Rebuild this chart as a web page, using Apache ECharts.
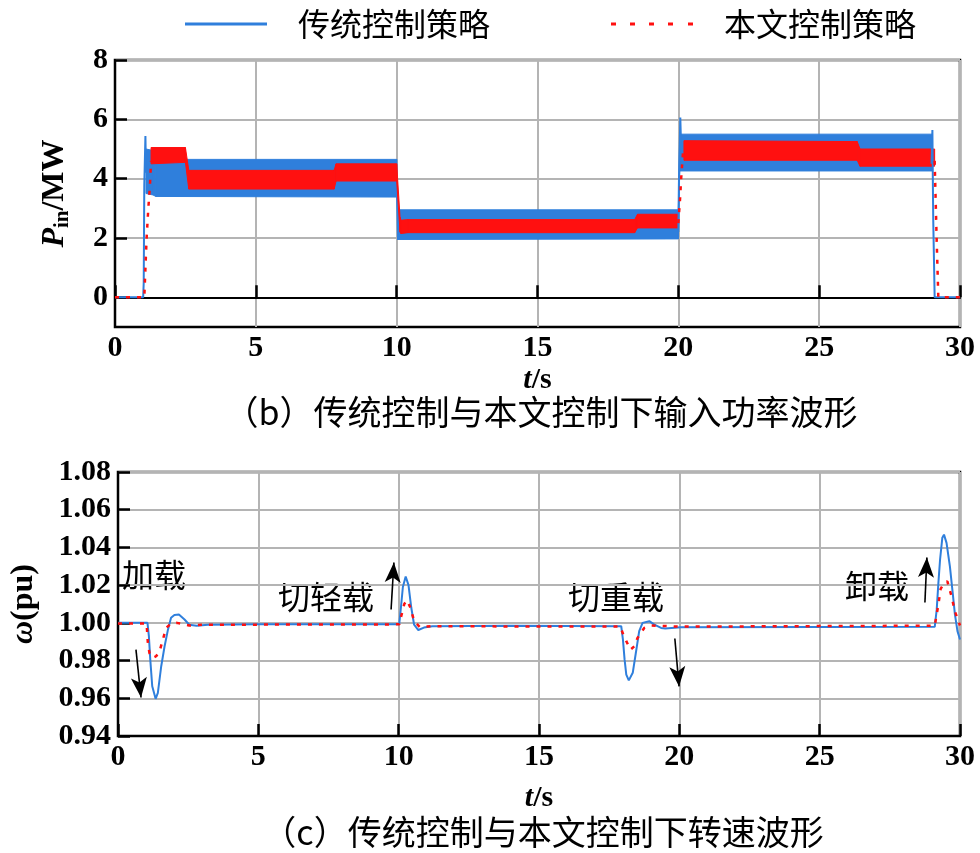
<!DOCTYPE html>
<html>
<head>
<meta charset="utf-8">
<script src="https://cdn.jsdelivr.net/npm/echarts@6/dist/echarts.min.js"></script>
<style>
  html, body { margin: 0; padding: 0; background: #fff; }
  #chart { width: 980px; height: 853px; }
</style>
</head>
<body>
<div id="chart"></div>
<script>
// x 轴刻度
var timeTicks = [0, 5, 10, 15, 20, 25, 30];
var powerTicks = [0, 2, 4, 6, 8];

// (b) 输入功率振荡带：[t, 下沿, 上沿]
var tradBand = [
  [1.10, 3.50, 5.00], [1.35, 3.45, 4.95], [1.45, 3.40, 4.65],
  [10.00, 3.38, 4.65], [10.03, 1.95, 2.95], [20.00, 1.97, 2.95],
  [20.05, 4.26, 5.50], [29.02, 4.26, 5.50]
];
var propBandA = [
  [1.28, 4.50, 5.05], [2.50, 4.55, 5.05], [2.62, 3.65, 4.28],
  [7.78, 3.65, 4.28], [7.85, 3.92, 4.50], [10.00, 3.92, 4.50],
  [10.12, 2.20, 2.70], [10.15, 2.15, 2.60], [10.40, 2.18, 2.62],
  [18.45, 2.18, 2.62], [18.55, 2.34, 2.80], [20.00, 2.34, 2.80]
];
var propBandB = [
  [20.20, 4.62, 5.28], [26.35, 4.62, 5.25], [26.45, 4.42, 5.00], [29.10, 4.42, 5.00]
];
// 功率带外的线段
var tradPowerStart = [[0, 0], [1.00, 0], [1.02, 0.5], [1.04, 3.8], [1.08, 5.44], [1.10, 4.2]];
var tradPowerJump = [[20.00, 2.2], [20.02, 3.8], [20.07, 6.06], [20.10, 5.0]];
var tradPowerEnd = [[28.99, 4.5], [29.02, 5.64], [29.04, 3.5], [29.05, 2.6], [29.08, 2.6], [29.10, 0], [30, 0]];
var propPowerStart = [[0, 0], [1.04, 0], [1.12, 1.95], [1.18, 2.96], [1.24, 3.75], [1.28, 4.6]];
var propPowerJump = [[20.00, 2.5], [20.06, 3.3], [20.10, 4.0], [20.17, 4.95]];
var propPowerEnd = [[29.10, 4.6], [29.13, 3.5], [29.17, 2.0], [29.23, 0], [30, 0]];

// (c) 转速 ω (pu)
var tradSpeed = [
  [0, 1.0000], [1.05, 1.0000], [1.10, 0.9930], [1.15, 0.9805], [1.22, 0.9664], [1.34, 0.9597],
  [1.42, 0.9629], [1.54, 0.9770], [1.66, 0.9876], [1.78, 0.9964], [1.89, 1.0027], [2.01, 1.0042],
  [2.17, 1.0044], [2.37, 1.0018], [2.54, 0.9990], [2.80, 0.9985], [3.20, 0.9990], [5.00, 0.9993],
  [8.00, 0.9993], [10.02, 0.9993], [10.08, 1.0080], [10.15, 1.0190], [10.25, 1.0246], [10.35, 1.0200],
  [10.45, 1.0080], [10.55, 0.9990], [10.70, 0.9962], [10.90, 0.9975], [11.20, 0.9982], [14.00, 0.9984],
  [17.93, 0.9982], [17.99, 0.9912], [18.05, 0.9805], [18.11, 0.9726], [18.20, 0.9695], [18.34, 0.9735],
  [18.45, 0.9840], [18.57, 0.9956], [18.69, 1.0000], [18.93, 1.0009], [19.11, 0.9991], [19.35, 0.9973],
  [19.50, 0.9970], [20.06, 0.9977], [25.00, 0.9978], [29.10, 0.9979], [29.17, 1.0070], [29.23, 1.0212],
  [29.29, 1.0336], [29.37, 1.0451], [29.43, 1.0468], [29.52, 1.0424], [29.64, 1.0300], [29.74, 1.0159],
  [29.82, 1.0044], [29.91, 0.9956], [30.00, 0.9912]
];
var propSpeed = [
  [0, 0.9996], [1.02, 0.9996], [1.06, 0.9900], [1.12, 0.9840], [1.24, 0.9814], [1.36, 0.9823],
  [1.48, 0.9850], [1.60, 0.9911], [1.71, 0.9973], [1.89, 0.9996], [2.10, 1.0000], [2.54, 0.9986],
  [3.00, 0.9990], [10.02, 0.9992], [10.10, 1.0040], [10.20, 1.0100], [10.30, 1.0120], [10.42, 1.0080],
  [10.55, 1.0010], [10.75, 0.9978], [11.20, 0.9982], [17.90, 0.9980], [17.99, 0.9943], [18.11, 0.9903],
  [18.26, 0.9858], [18.40, 0.9876], [18.51, 0.9920], [18.75, 0.9973], [18.99, 0.9986], [20.00, 0.9980],
  [29.10, 0.9985], [29.23, 1.0097], [29.31, 1.0180], [29.45, 1.0215], [29.55, 1.0220], [29.70, 1.0140],
  [29.82, 1.0060], [30.00, 0.9986]
];

// 标注箭头（数据坐标）
var arrows = [
  [[0.64, 0.9858], [0.82, 0.9604]],
  [[9.73, 1.0071], [9.83, 1.0320]],
  [[19.84, 0.9917], [19.99, 0.9663]],
  [[28.75, 1.0108], [28.82, 1.0347]]
];

var BLUE = '#2f7fdc';
var RED = '#ff1010';
var numFont = 'Liberation Serif';
var cjkFont = 'Noto Sans CJK SC';

var chart = echarts.init(document.getElementById('chart'));

function bandSeries(name, rows, color) {
  var quads = [];
  for (var i = 0; i < rows.length - 1; i++) {
    quads.push(rows[i].concat(rows[i + 1]));
  }
  return {
    name: name,
    type: 'custom',
    xAxisIndex: 0,
    yAxisIndex: 0,
    silent: true,
    data: quads,
    encode: { x: [0, 3], y: [1, 2, 4, 5] },
    renderItem: function (params, api) {
      var pts = [
        api.coord([api.value(0), api.value(2)]),
        api.coord([api.value(3), api.value(5)]),
        api.coord([api.value(3), api.value(4)]),
        api.coord([api.value(0), api.value(1)])
      ];
      return {
        type: 'polygon',
        shape: { points: pts },
        style: { fill: color, stroke: color, lineWidth: 1 }
      };
    }
  };
}

function lineSeries(name, data, color, dashed, axis) {
  return {
    name: name,
    type: 'line',
    xAxisIndex: axis,
    yAxisIndex: axis,
    data: data,
    symbol: 'none',
    silent: true,
    lineStyle: { color: color, width: dashed ? 2.5 : 2, type: dashed ? [4, 7] : 'solid' },
    itemStyle: { color: color }
  };
}

function xAxisCfg(grid, gap) {
  return {
    gridIndex: grid,
    type: 'value',
    min: 0,
    max: 30,
    interval: 5,
    name: '{i|t}/s',
    nameLocation: 'middle',
    nameGap: gap,
    nameTextStyle: {
      fontFamily: numFont, fontSize: 30, fontWeight: 'bold', color: '#000',
      rich: { i: { fontFamily: numFont, fontSize: 30, fontWeight: 'bold', fontStyle: 'italic', color: '#000' } }
    },
    axisLine: { lineStyle: { color: '#000', width: 2 } },
    axisTick: { inside: true, length: 12, lineStyle: { color: '#000', width: 2.5 } },
    axisLabel: { fontFamily: numFont, fontSize: 30, fontWeight: 'bold', color: '#000', margin: 6 },
    splitLine: { show: true, lineStyle: { color: '#b4b4b4', width: 2 } }
  };
}

var speedBlue = lineSeries('传统控制策略', tradSpeed, BLUE, false, 1);
speedBlue.markLine = {
  silent: true,
  symbol: ['none', 'arrow'],
  symbolSize: [12, 20],
  label: { show: false },
  lineStyle: { color: '#000', width: 1.6, type: 'solid' },
  data: arrows.map(function (a) {
    return [{ coord: a[0] }, { coord: a[1] }];
  })
};

var option = {
  backgroundColor: '#fff',
  animation: false,
  legend: {
    left: 180,
    top: 3,
    itemWidth: 82,
    itemHeight: 3,
    itemGap: 121,
    data: [
      { name: '传统控制策略', icon: 'path://M0,0h82v3h-82z' },
      { name: '本文控制策略', icon: 'path://M0,0h5v3h-5zM19,0h5v3h-5zM38,0h5v3h-5zM57,0h5v3h-5zM77,0h5v3h-5z' }
    ],
    textStyle: { fontFamily: cjkFont, fontSize: 32, color: '#000', padding: [0, 0, 0, 26] }
  },
  grid: [
    { left: 115, right: 20, top: 60, height: 267, show: true, borderColor: '#000', borderWidth: 2.5 },
    { left: 115, right: 20, top: 472, height: 264, show: true, borderColor: '#000', borderWidth: 2.5 }
  ],
  xAxis: [xAxisCfg(0, 38), xAxisCfg(1, 47)],
  yAxis: [
    {
      gridIndex: 0,
      type: 'value',
      min: -1,
      max: 8,
      name: '{i|P}{s|in}{n|/MW}',
      nameLocation: 'middle',
      nameRotate: 90,
      nameGap: 42,
      nameTextStyle: {
        rich: {
          i: { fontFamily: numFont, fontSize: 32, fontWeight: 'bold', fontStyle: 'italic', color: '#000', lineHeight: 36 },
          s: { fontFamily: numFont, fontSize: 21, fontWeight: 'bold', color: '#000', lineHeight: 22, verticalAlign: 'bottom' },
          n: { fontFamily: numFont, fontSize: 32, fontWeight: 'bold', color: '#000', lineHeight: 36 }
        }
      },
      axisLine: { lineStyle: { color: '#000', width: 2 } },
      axisTick: { inside: true, length: 12, customValues: powerTicks, lineStyle: { color: '#000', width: 2.5 } },
      axisLabel: { customValues: powerTicks, fontFamily: numFont, fontSize: 30, fontWeight: 'bold', color: '#000', margin: 7 },
      splitLine: { show: true, lineStyle: { color: '#b4b4b4', width: 2 } }
    },
    {
      gridIndex: 1,
      type: 'value',
      min: 0.94,
      max: 1.08,
      interval: 0.02,
      name: '{i|ω}(pu)',
      nameLocation: 'middle',
      nameRotate: 90,
      nameGap: 78,
      nameTextStyle: {
        fontFamily: numFont, fontSize: 32, fontWeight: 'bold', color: '#000',
        rich: { i: { fontFamily: numFont, fontSize: 32, fontWeight: 'bold', fontStyle: 'italic', color: '#000' } }
      },
      axisLine: { lineStyle: { color: '#000', width: 2 } },
      axisTick: { inside: true, length: 12, lineStyle: { color: '#000', width: 2.5 } },
      axisLabel: {
        fontFamily: numFont, fontSize: 30, fontWeight: 'bold', color: '#000', margin: 7,
        formatter: function (v) { return v.toFixed(2); }
      },
      splitLine: { show: true, lineStyle: { color: '#b4b4b4', width: 2 } }
    }
  ],
  graphic: [
    { type: 'text', x: 541, y: 412, style: { text: '（b）传统控制与本文控制下输入功率波形', font: '34px "Noto Sans CJK SC"', fill: '#000', textAlign: 'center', textVerticalAlign: 'middle' } },
    { type: 'text', x: 543, y: 832, style: { text: '（c）传统控制与本文控制下转速波形', font: '34px "Noto Sans CJK SC"', fill: '#000', textAlign: 'center', textVerticalAlign: 'middle' } },
    { type: 'text', x: 122, y: 575, style: { text: '加载', font: '32px "Noto Sans CJK SC"', fill: '#000', textVerticalAlign: 'middle' } },
    { type: 'text', x: 278, y: 597, style: { text: '切轻载', font: '32px "Noto Sans CJK SC"', fill: '#000', textVerticalAlign: 'middle' } },
    { type: 'text', x: 568, y: 597, style: { text: '切重载', font: '32px "Noto Sans CJK SC"', fill: '#000', textVerticalAlign: 'middle' } },
    { type: 'text', x: 845, y: 586, style: { text: '卸载', font: '32px "Noto Sans CJK SC"', fill: '#000', textVerticalAlign: 'middle' } }
  ],
  series: [
    speedBlue,
    lineSeries('本文控制策略', propSpeed, RED, true, 1),
    bandSeries('传统控制策略', tradBand, BLUE),
    lineSeries('传统控制策略', tradPowerStart, BLUE, false, 0),
    lineSeries('传统控制策略', tradPowerJump, BLUE, false, 0),
    lineSeries('传统控制策略', tradPowerEnd, BLUE, false, 0),
    bandSeries('本文控制策略', propBandA, RED),
    bandSeries('本文控制策略', propBandB, RED),
    lineSeries('本文控制策略', propPowerStart, RED, true, 0),
    lineSeries('本文控制策略', propPowerJump, RED, true, 0),
    lineSeries('本文控制策略', propPowerEnd, RED, true, 0)
  ]
};

chart.setOption(option);
</script>
</body>
</html>
